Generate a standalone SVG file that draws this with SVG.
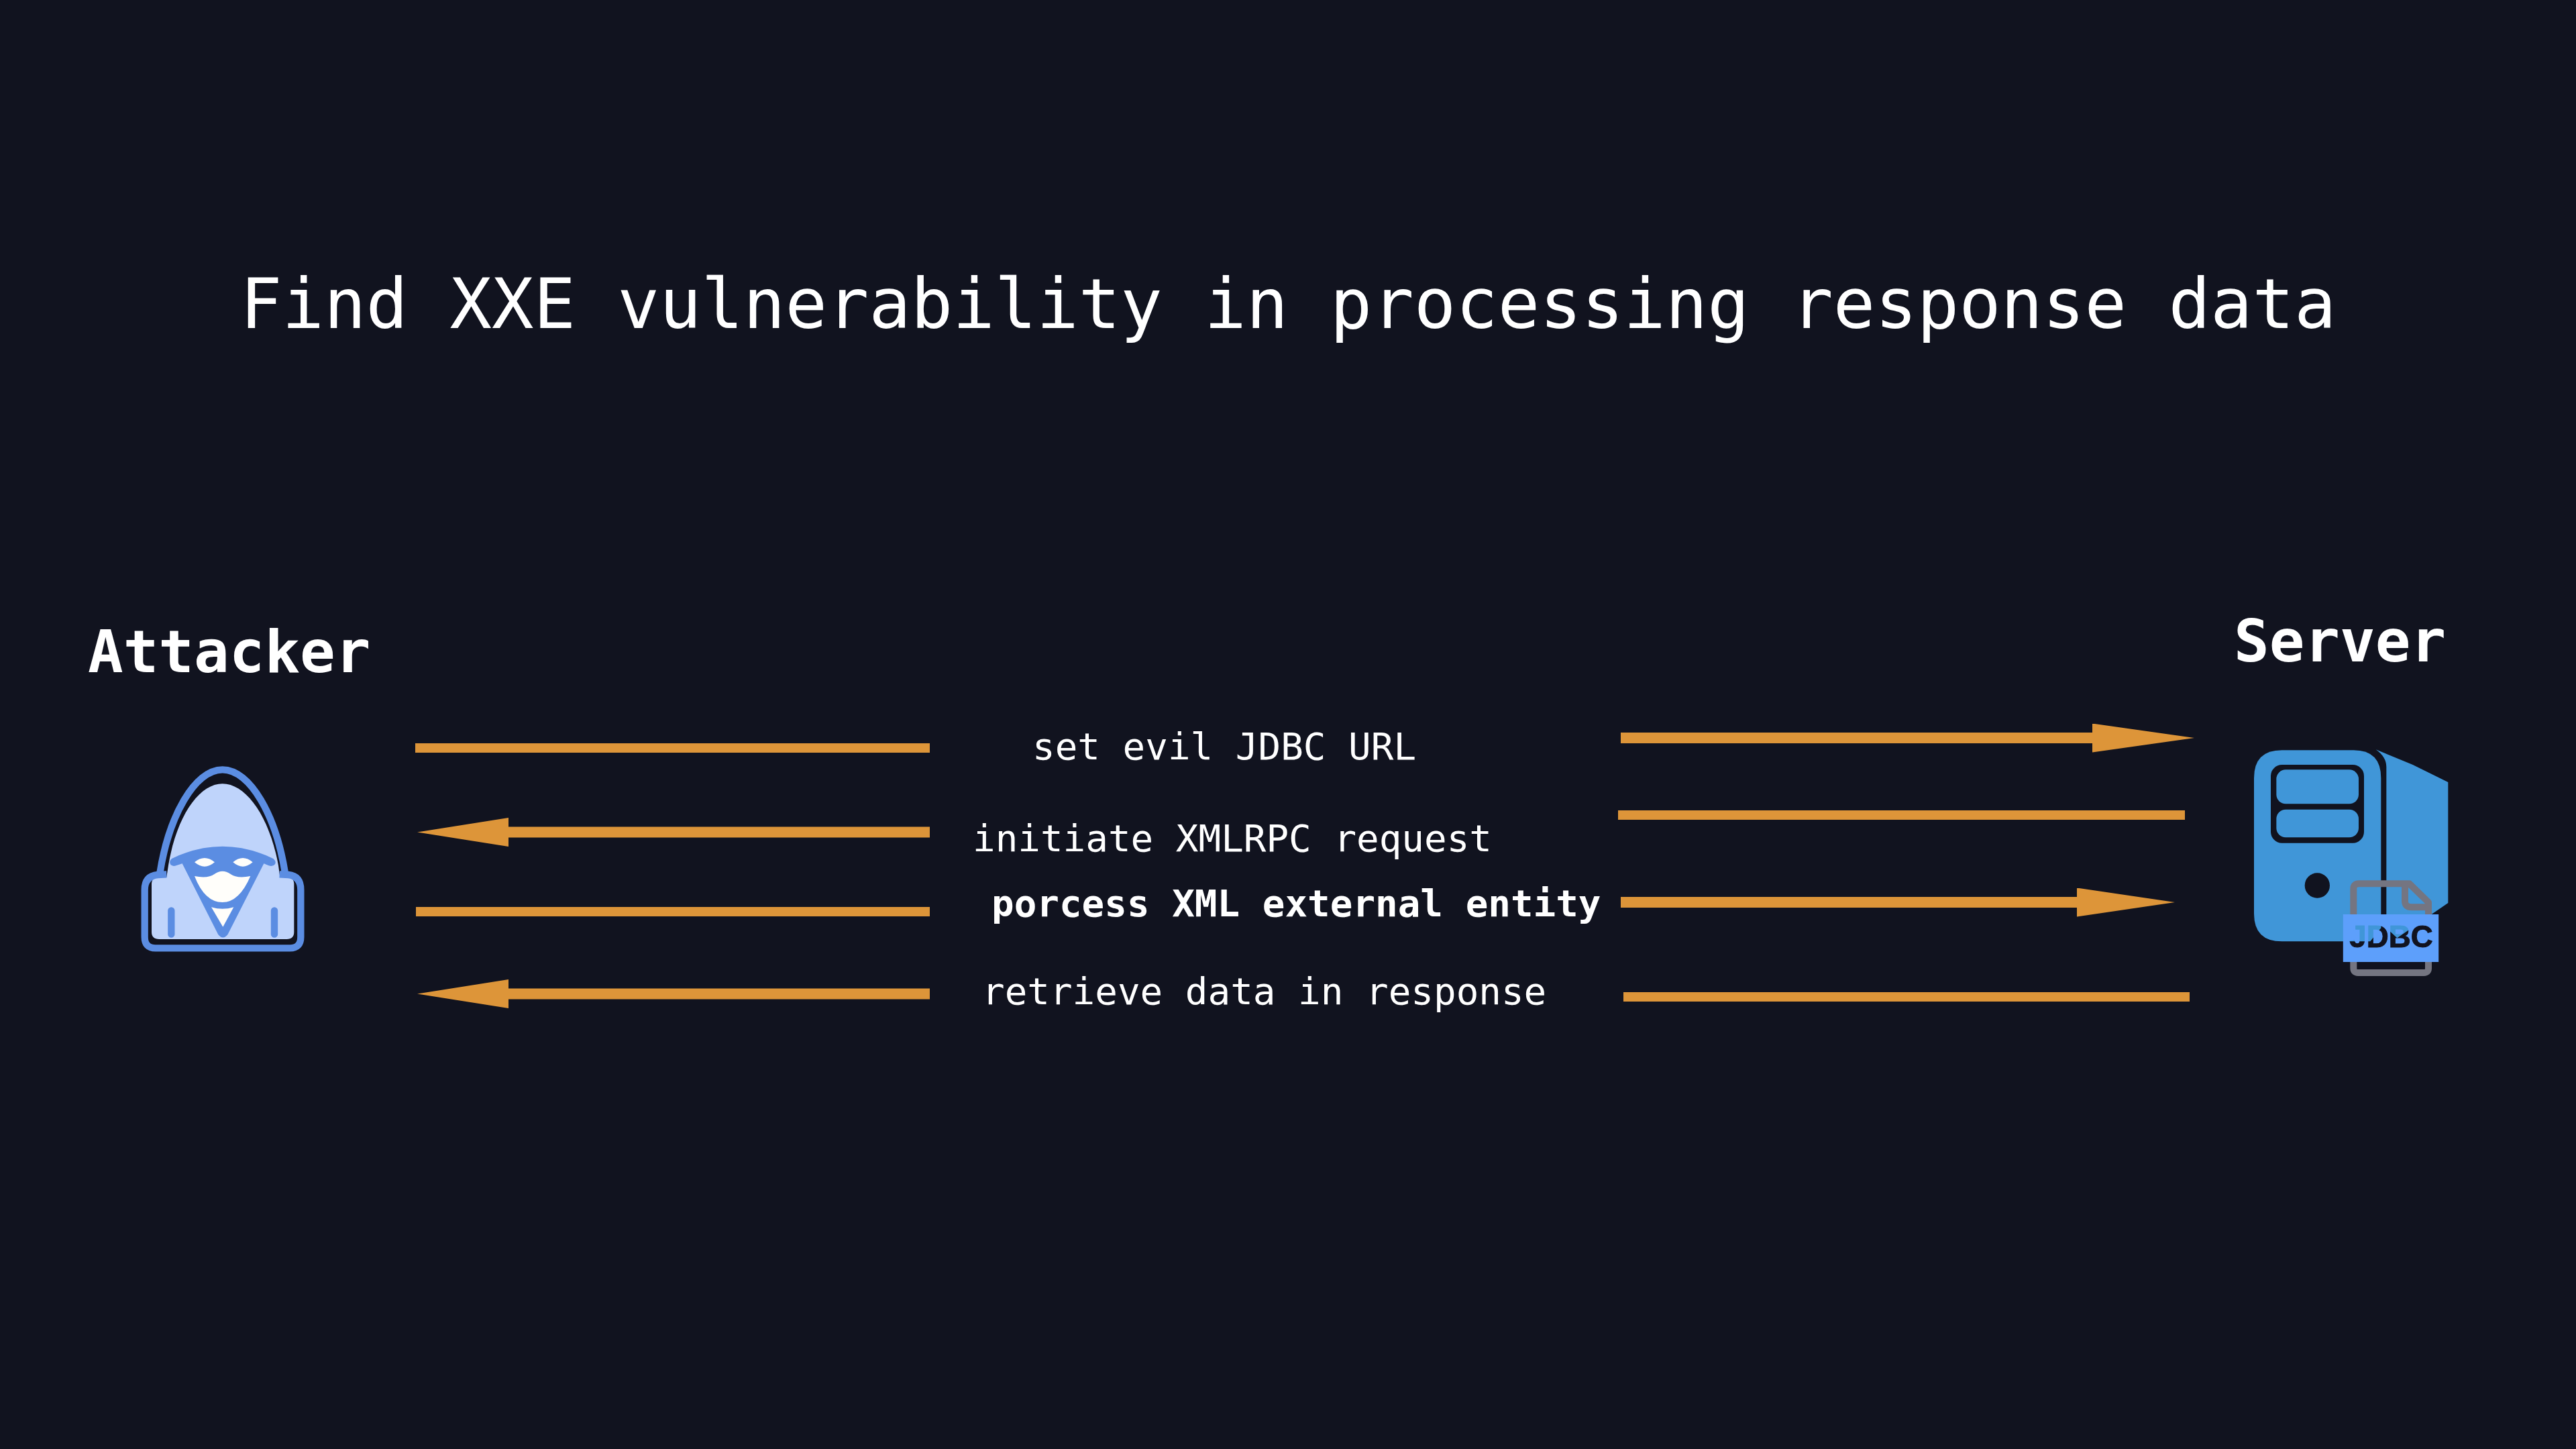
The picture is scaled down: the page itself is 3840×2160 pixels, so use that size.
<svg xmlns="http://www.w3.org/2000/svg" width="3840" height="2160" viewBox="0 0 3840 2160">
<style>
text{font-family:"DejaVu Sans Mono","Liberation Mono",monospace;fill:#fff}
.title{font-size:103.8px}
.actor{font-size:87.5px;font-weight:700}
.msg{font-size:55.9px}
.bold{font-weight:700}
.bar{fill:#dd9539}
.shaft{stroke:#dd9539;stroke-width:16;fill:none}
.line{fill:none;stroke:#5b8de2;stroke-width:31;stroke-linecap:butt;stroke-linejoin:round}
.round{stroke-linecap:round}
.white{fill:#fffefa}
.srv{fill:#4096d8}
.dark{fill:#11131f}
.file{fill:none;stroke:#747581;stroke-width:30;stroke-linejoin:round}
.knock{font-family:"Liberation Sans",Arial,sans-serif;font-size:137px;font-weight:700;fill:#000;stroke:#000;stroke-width:3}
</style>
<defs>
<marker id="headL" markerUnits="userSpaceOnUse" viewBox="0 0 136 43" markerWidth="136" markerHeight="43" refX="0" refY="21.5" orient="auto"><path d="M0 0L136 21.5L0 43Z" fill="#dd9539"/></marker>
<marker id="headR1" markerUnits="userSpaceOnUse" viewBox="0 0 152 43" markerWidth="152" markerHeight="43" refX="0" refY="21.5" orient="auto"><path d="M0 0L152 21.5L0 43Z" fill="#dd9539"/></marker>
<marker id="headR2" markerUnits="userSpaceOnUse" viewBox="0 0 146 43" markerWidth="146" markerHeight="43" refX="0" refY="21.5" orient="auto"><path d="M0 0L146 21.5L0 43Z" fill="#dd9539"/></marker>
<mask id="jdbcKnock" maskUnits="userSpaceOnUse" x="517" y="818" width="430" height="214">
<rect x="517" y="818" width="430" height="214" fill="#fff"/>
<text class="knock" x="547" y="966">JDBC</text>
</mask>
</defs>
<rect width="3840" height="2160" fill="#11131f"/>
<text class="title" x="358" y="489">Find XXE vulnerability in processing response data</text>
<g id="attacker">
<text class="actor" x="131" y="1002">Attacker</text>
<g transform="translate(180 1100) scale(.33333)">
<path fill="#bfd4fb" d="M138 655Q138 622 172 622L205 622L213 570C250 350 350 205 455 205C560 205 665 350 705 570L712 622L742 622Q775 622 775 655L775 868Q775 900 742 900L172 900Q138 900 138 868Z"/>
<path class="line" d="M175 605C215 350 330 142 455 142C580 142 695 350 735 605"/>
<path class="line" d="M205 610L165 612Q107 618 107 680L107 890Q107 940 155 940L757 940Q805 940 805 890L805 680Q805 618 750 612L710 610"/>
<path fill="#5b8de2" d="M228 540Q340 485 455 485Q570 485 682 540Q697 552 690 565Q680 578 660 570L640 562L478 880Q457 905 436 880L275 562L250 570Q230 578 222 565Q215 552 228 540Z"/>
<path class="white" d="M330 556Q375 518 420 556Q375 594 330 556ZM502 556Q546 518 590 556Q546 594 502 556Z"/>
<path class="white" d="M330 618Q390 630 420 608Q455 585 490 608Q520 630 580 618Q530 735 455 735Q375 735 330 618Z"/>
<path class="white" d="M405 757Q455 772 505 757L457 845Z"/>
<path class="line round" d="M226 772L226 878M687 772L687 878"/>
</g>
</g>
<g id="server">
<text class="actor" x="3330" y="986">Server</text>
<g transform="translate(3320 1090) scale(.33333)">
<path class="srv" d="M245 85L565 85Q688 85 688 210L688 880L640 940L245 940Q120 940 120 815L120 210Q120 85 245 85Z"/>
<path class="srv" d="M665 82L830 150L988 228L988 768L760 925L712 880L712 160Q712 115 665 82Z"/>
<rect class="dark" x="195" y="150" width="417" height="350" rx="50"/>
<rect class="srv" x="220" y="172" width="368" height="153" rx="42"/>
<rect class="srv" x="220" y="350" width="368" height="125" rx="42"/>
<circle class="dark" cx="403" cy="690" r="56"/>
<path class="file" d="M565 825L565 705Q565 682 590 682L815 682L900 765L900 825"/>
<path class="file" d="M565 1025L565 1060Q565 1080 585 1080L880 1080Q900 1080 900 1060L900 1025"/>
<path class="file" d="M795 682L795 760Q795 787 825 787L900 787"/>
<rect x="517" y="818" width="430" height="214" fill="#5d9ffb" mask="url(#jdbcKnock)"/>
</g>
</g>
<g id="connectors">
<rect class="bar" x="619" y="1108" width="767" height="14"/>
<line class="shaft" x1="1386" y1="1240.500" x2="758" y2="1240.500" marker-end="url(#headL)"/>
<rect class="bar" x="620" y="1352" width="766" height="14"/>
<line class="shaft" x1="1386" y1="1481.500" x2="758" y2="1481.500" marker-end="url(#headL)"/>
<line class="shaft" x1="2416" y1="1100" x2="3119" y2="1100" marker-end="url(#headR1)"/>
<rect class="bar" x="2412" y="1208" width="845" height="14"/>
<line class="shaft" x1="2416" y1="1345" x2="3096" y2="1345" marker-end="url(#headR2)"/>
<rect class="bar" x="2420" y="1479" width="844" height="14"/>
</g>
<g id="labels">
<text class="msg" x="1539" y="1132">set evil JDBC URL</text>
<text class="msg" x="1450" y="1269">initiate XMLRPC request</text>
<text class="msg bold" x="1478" y="1366">porcess XML external entity</text>
<text class="msg" x="1464" y="1497">retrieve data in response</text>
</g>
</svg>
